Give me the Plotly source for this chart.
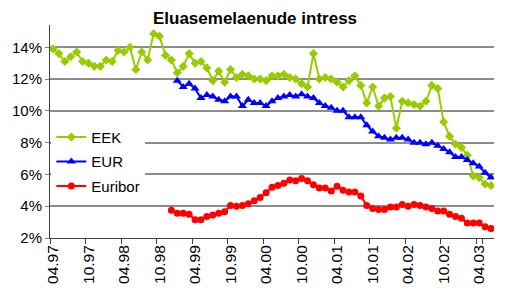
import plotly.graph_objects as go

# Monthly categories 04.97 .. 06.03
months = []
for yr in range(97, 104):
    for m in range(1, 13):
        if (yr == 97 and m < 4) or (yr == 103 and m > 6):
            continue
        months.append(f"{m:02d}.{yr % 100:02d}")

tick_labels = ["04.97", "10.97", "04.98", "10.98", "04.99", "10.99", "04.00",
               "10.00", "04.01", "10.01", "04.02", "10.02", "04.03"]

eek = [13.9, 13.6, 13.1, 13.4, 13.7, 13.1, 13.0, 12.8, 12.8, 13.2,
       13.1, 13.8, 13.7, 14.0, 12.6, 13.7, 13.2, 14.85, 14.7, 13.5,
       13.2, 12.4, 12.8, 13.6, 13.0, 13.1, 12.7, 11.9, 12.5, 11.8,
       12.6, 12.1, 12.3, 12.2, 12.0, 12.0, 11.9, 12.2, 12.2, 12.3,
       12.1, 12.0, 11.7, 11.5, 13.6, 12.0, 12.1, 12.0, 11.8, 11.5,
       11.9, 12.2, 11.6, 10.5, 11.5, 10.3, 10.8, 10.9, 8.9, 10.6,
       10.5, 10.4, 10.3, 10.6, 11.6, 11.4, 9.3, 8.4, 7.9, 7.7,
       7.2, 5.9, 5.8, 5.4, 5.3]

eur_start = 21
eur = [11.9, 11.5, 11.7, 11.4, 10.8, 11.0, 10.9, 10.7, 10.6, 10.9,
       10.9, 10.3, 10.7, 10.5, 10.5, 10.3, 10.6, 10.8, 10.9, 11.0,
       10.9, 11.05, 10.9, 10.8, 10.5, 10.3, 10.2, 10.0, 10.0, 9.6,
       9.6, 9.6, 9.1, 8.7, 8.4, 8.3, 8.2, 8.3, 8.3, 8.2,
       8.0, 8.0, 7.9, 8.0, 7.8, 7.6, 7.4, 7.1, 7.1, 6.9,
       6.7, 6.5, 6.1, 5.8]

euribor_start = 20
euribor = [3.75, 3.55, 3.55, 3.5, 3.15, 3.15, 3.35, 3.45, 3.55, 3.65,
           4.05, 4.0, 4.05, 4.15, 4.35, 4.55, 4.85, 5.2, 5.3, 5.45,
           5.65, 5.6, 5.75, 5.6, 5.35, 5.15, 5.15, 4.95, 5.25, 5.0,
           4.9, 4.9, 4.65, 4.05, 3.85, 3.8, 3.8, 3.95, 3.95, 4.1,
           4.0, 4.1, 4.05, 3.95, 3.85, 3.7, 3.7, 3.5, 3.35, 3.25,
           2.95, 2.95, 2.95, 2.7, 2.6]

y_ticks = [2, 4, 6, 8, 10, 12, 14]

FONT = "Liberation Sans, Arial, sans-serif"

fig = go.Figure()
fig.add_trace(go.Scatter(
    x=months, y=eek, name="EEK", mode="lines+markers", legendgroup="a",
    line=dict(color="#99CC00", width=2),
    marker=dict(symbol="diamond", size=7, color="#99CC00")))
fig.add_trace(go.Scatter(
    x=months[eur_start:eur_start + len(eur)], y=eur, name="EUR", mode="lines+markers",
    legendgroup="b",
    line=dict(color="#0000FF", width=2),
    marker=dict(symbol="triangle-up", size=8, color="#0000FF")))
fig.add_trace(go.Scatter(
    x=months[euribor_start:euribor_start + len(euribor)], y=euribor, name="Euribor",
    mode="lines+markers", legendgroup="c",
    line=dict(color="#FF0000", width=2),
    marker=dict(symbol="circle", size=7, color="#FF0000")))

fig.update_layout(
    width=510, height=296,
    margin=dict(l=49, r=16, t=25, b=53),
    paper_bgcolor="white", plot_bgcolor="white",
    font=dict(family=FONT, size=15, color="black"),
    title=dict(text="<b>Eluasemelaenude intress</b>", x=0.5, xref="container",
               xanchor="center", y=0.94, yref="container", yanchor="middle",
               font=dict(family=FONT, size=17, color="black")),
    showlegend=True,
    legend=dict(x=0.003, y=0.55, xanchor="left", yanchor="top",
                bgcolor="white", borderwidth=0,
                font=dict(family=FONT, size=15, color="black"),
                itemwidth=30, tracegroupgap=2),
)
fig.update_xaxes(
    type="category", categoryorder="array", categoryarray=months,
    range=[-0.5, len(months) - 0.5],
    tickmode="array", tickvals=tick_labels, ticktext=tick_labels,
    tickson="boundaries", tickangle=-90,
    ticks="outside", ticklen=5, tickcolor="#404040",
    showline=True, linecolor="#404040", linewidth=1,
    showgrid=False, zeroline=False,
    tickfont=dict(family=FONT, size=15.5, color="black"),
)
fig.update_yaxes(
    range=[2, 15.4],
    tickmode="array", tickvals=y_ticks, ticktext=[f"{v}%" for v in y_ticks],
    ticks="outside", ticklen=4, tickcolor="#808080",
    showline=True, linecolor="#404040", linewidth=1,
    showgrid=True, gridcolor="#8c8c8c", gridwidth=1.5,
    zeroline=False,
    tickfont=dict(family=FONT, size=15, color="black"),
)

fig.write_html("out.html")
